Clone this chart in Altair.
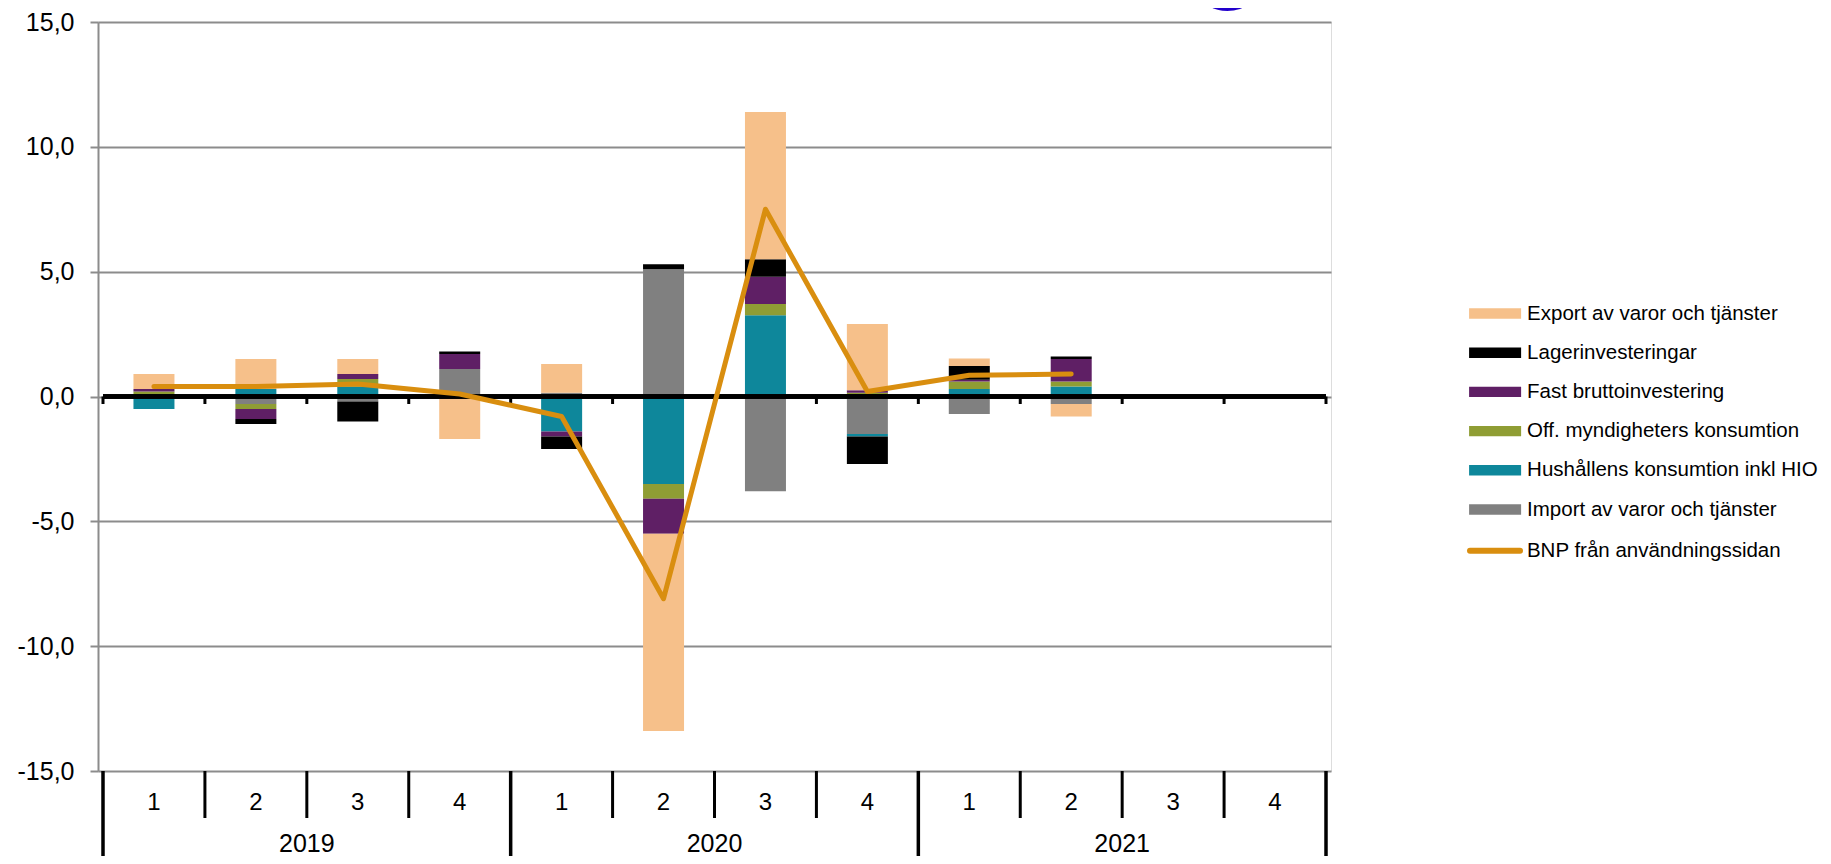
import altair as alt
import pandas as pd

# ---------------- data ----------------
years = ["2019", "2020", "2021"]
quarters = ["1", "2", "3", "4"]
period_quarter = quarters * 3          # 12 periods on the axis

# stacking order (closest to zero first)
series = [
    "Import av varor och tjänster",
    "Hushållens konsumtion inkl HIO",
    "Off. myndigheters konsumtion",
    "Fast bruttoinvestering",
    "Lagerinvesteringar",
    "Export av varor och tjänster",
]
import_v = [0.0, -0.3, -0.2, 1.1, 0.15, 5.1, -3.8, -1.5, -0.7, -0.3]
hush_v   = [-0.5, 0.3, 0.4, 0.0, -1.4, -3.5, 3.25, -0.1, 0.3, 0.4]
off_v    = [0.2, -0.2, 0.3, 0.0, 0.0, -0.6, 0.45, 0.15, 0.3, 0.2]
fast_v   = [0.1, -0.4, 0.2, 0.6, -0.2, -1.4, 1.1, 0.1, 0.07, 0.9]
lager_v  = [0.0, -0.2, -0.8, 0.1, -0.5, 0.2, 0.7, -1.1, 0.55, 0.1]
export_v = [0.6, 1.2, 0.6, -1.7, 1.15, -7.9, 5.9, 2.65, 0.3, -0.5]
bnp_name = "BNP från användningssidan"
bnp_v    = [0.4, 0.4, 0.5, 0.1, -0.8, -8.1, 7.5, 0.2, 0.85, 0.9]

legend_order = [
    "Export av varor och tjänster",
    "Lagerinvesteringar",
    "Fast bruttoinvestering",
    "Off. myndigheters konsumtion",
    "Hushållens konsumtion inkl HIO",
    "Import av varor och tjänster",
]
legend_colors = ["#F6C08A", "#000000", "#5F1F65", "#8F9D34", "#0E879B", "#808080"]
bnp_color = "#D98E0F"
title_fragment = "g"

# ---------------- tables ----------------
values = [import_v, hush_v, off_v, fast_v, lager_v, export_v]
bar_rows = []
for k, (name, vals) in enumerate(zip(series, values)):
    for i, v in enumerate(vals):
        bar_rows.append({"series": name, "ord": k, "i": i, "value": v})
bar_df = pd.DataFrame(bar_rows)
bnp_df = pd.DataFrame({"i": list(range(len(bnp_v))), "bnp": bnp_v})
n = len(period_quarter)
qlab_df = pd.DataFrame({"i": list(range(n)), "q": period_quarter})
year_df = pd.DataFrame({"k": list(range(len(years))), "year": years})
bound_df = pd.DataFrame({"b": list(range(n + 1))})
bnp_leg_df = pd.DataFrame({"name": [bnp_name]})

FONT = "Liberation Sans"
LEG_FS = 20.5
xscale = alt.Scale(domain=[0, n], nice=False, zero=False)
yscale = alt.Scale(domain=[-15, 15], nice=False, zero=False)
yaxis = alt.Axis(
    values=[-15, -10, -5, 0, 5, 10, 15],
    labelExpr="(datum.value < 0 ? '-' : '') + replace(format(abs(datum.value), '.1f'), '.', ',')",
    labelFont=FONT, labelFontSize=25, labelColor="#000000", labelPadding=16,
    tickSize=8, tickColor="#8c8c8c", tickWidth=2,
    domainColor="#8c8c8c", domainWidth=2,
    grid=True, gridColor="#8c8c8c", gridWidth=2,
    title=None,
)

bars = alt.Chart(bar_df).transform_stack(
    stack="value", groupby=["i"], as_=["y0", "y1"],
    sort=[alt.SortField("ord", order="ascending")], offset="zero",
).transform_calculate(xc="datum.i + 0.5").mark_bar(width=41, orient="vertical").encode(
    x=alt.X("xc:Q", scale=xscale, axis=None),
    y=alt.Y("y0:Q", scale=yscale, axis=yaxis, stack=None),
    y2="y1:Q",
    color=alt.Color(
        "series:N",
        scale=alt.Scale(domain=legend_order, range=legend_colors),
        legend=alt.Legend(
            title=None, orient="none", legendX=1386.6, legendY=281,
            symbolType="M-2.5,-0.5H2.5V0.5H-2.5Z", symbolSize=433,
            symbolStrokeWidth=0, symbolOpacity=1,
            labelFont=FONT, labelFontSize=LEG_FS, labelColor="#000000",
            labelOffset=21.5, rowPadding=18.2, labelLimit=600, padding=0,
        ),
    ),
)

zero_line = alt.Chart(bound_df).mark_rule(color="#000000", strokeWidth=3.5).encode(
    x=alt.datum(0, scale=xscale), x2=alt.datum(n), y=alt.datum(0)
)
zero_ticks = alt.Chart(bound_df).mark_rule(color="#000000", strokeWidth=3).encode(
    x=alt.X("b:Q"), y=alt.datum(0), y2=alt.datum(-0.3)
)

line = alt.Chart(bnp_df).transform_calculate(xc="datum.i + 0.5").mark_line(
    color=bnp_color, strokeWidth=5, strokeCap="round", strokeJoin="round"
).encode(x="xc:Q", y="bnp:Q")

# legend entry for the line series
bnp_leg_line = alt.Chart(bnp_leg_df).mark_rule(
    color=bnp_color, strokeWidth=6, strokeCap="round"
).encode(x=alt.value(1372), x2=alt.value(1422), y=alt.value(528.7))
bnp_leg_text = alt.Chart(bnp_leg_df).mark_text(
    font=FONT, fontSize=LEG_FS, color="#000000", baseline="middle", align="left"
).encode(x=alt.value(1428.9), y=alt.value(528.7), text="name:N")

q_sep = alt.Chart(bound_df).transform_filter("datum.b % 4 != 0").mark_rule(
    color="#000000", strokeWidth=3
).encode(x="b:Q", y=alt.datum(-15), y2=alt.value(796))
y_sep = alt.Chart(bound_df).transform_filter("datum.b % 4 == 0").mark_rule(
    color="#000000", strokeWidth=3.5
).encode(x="b:Q", y=alt.datum(-15), y2=alt.value(840))

q_text = alt.Chart(qlab_df).transform_calculate(xc="datum.i + 0.5").mark_text(
    font=FONT, fontSize=24, color="#000000", baseline="middle", align="center"
).encode(x="xc:Q", y=alt.value(781), text="q:N")
y_text = alt.Chart(year_df).transform_calculate(xc="datum.k * 4 + 2").mark_text(
    font=FONT, fontSize=25, color="#000000", baseline="middle", align="center"
).encode(x="xc:Q", y=alt.value(822), text="year:N")

title_g = alt.Chart(year_df.head(1)).mark_text(
    font=FONT, fontSize=112, fontWeight="bold", color="#2200CC",
    baseline="alphabetic", align="center"
).encode(x=alt.value(1131), y=alt.value(-34), text=alt.value(title_fragment))

chart = alt.layer(
    bars, zero_line, zero_ticks, line, q_sep, y_sep, q_text, y_text,
    bnp_leg_line, bnp_leg_text, title_g
).properties(
    width=1233, height=749,
    autosize=alt.AutoSizeParams(type="none"),
    padding={"left": 90, "top": 14, "right": 492, "bottom": 85},
).configure_view(stroke=None).configure(font=FONT)

chart.save("out.html", embed_options={"renderer": "svg", "actions": False})
